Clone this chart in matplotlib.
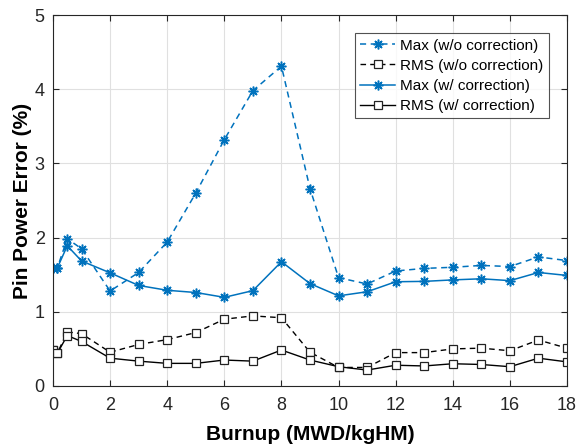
import matplotlib
matplotlib.use("Agg")
import matplotlib.pyplot as plt

plt.rcParams['font.family'] = ['Liberation Sans', 'DejaVu Sans']

burnup = [0, 0.15, 0.5, 1, 2, 3, 4, 5, 6, 7, 8, 9, 10, 11, 12, 13, 14, 15, 16, 17, 18]
max_wo = [1.59, 1.59, 1.985, 1.85, 1.28, 1.53, 1.94, 2.60, 3.32, 3.98, 4.31, 2.66, 1.46, 1.375,
          1.55, 1.585, 1.60, 1.625, 1.61, 1.74, 1.69]
rms_wo = [0.485, 0.44, 0.73, 0.705, 0.455, 0.56, 0.625, 0.72, 0.90, 0.945, 0.92, 0.455, 0.25, 0.25,
          0.45, 0.45, 0.50, 0.51, 0.475, 0.62, 0.51]
max_w = [1.59, 1.59, 1.89, 1.685, 1.525, 1.355, 1.29, 1.26, 1.195, 1.285, 1.675, 1.38, 1.215, 1.27,
         1.405, 1.41, 1.43, 1.445, 1.42, 1.53, 1.49]
rms_w = [0.485, 0.44, 0.68, 0.60, 0.375, 0.335, 0.305, 0.305, 0.35, 0.335, 0.485, 0.35, 0.26, 0.215,
         0.28, 0.27, 0.30, 0.29, 0.26, 0.375, 0.325]

labels = ['Max (w/o correction)', 'RMS (w/o correction)', 'Max (w/ correction)', 'RMS (w/ correction)']
blue = '#0072BD'
ast = (8, 2, 0)

fig = plt.figure(figsize=(5.79, 4.46), dpi=100)
ax = fig.add_axes([53/579, 60/446, 514/579, 371/446])

ax.plot(burnup, max_wo, '--', color=blue, marker=ast, markersize=7, lw=1.1,
        markeredgewidth=1.1, dashes=(4, 3), label=labels[0])
ax.plot(burnup, rms_wo, '--', color='black', marker='s', markersize=6, lw=1.0,
        markerfacecolor='white', markeredgecolor='#222222', markeredgewidth=0.9,
        dashes=(4, 3), label=labels[1])
ax.plot(burnup, max_w, '-', color=blue, marker=ast, markersize=7, lw=1.1,
        markeredgewidth=1.1, label=labels[2])
ax.plot(burnup, rms_w, '-', color='black', marker='s', markersize=6, lw=1.0,
        markerfacecolor='white', markeredgecolor='#222222', markeredgewidth=0.9, label=labels[3])

ax.set_xlim(0, 18)
ax.set_ylim(0, 5)
ax.set_xticks(range(0, 19, 2))
ax.set_yticks(range(0, 6))
ax.grid(True, color='#e0e0e0', lw=0.8)
ax.set_axisbelow(True)
ax.tick_params(direction='in', top=True, right=True, labelsize=13, length=4,
               color='#262626', labelcolor='#262626')
ax.tick_params(axis='x', pad=8)
ax.tick_params(axis='y', pad=6)
for s in ax.spines.values():
    s.set_color('#262626')
    s.set_linewidth(0.8)

ax.set_xlabel('Burnup (MWD/kgHM)', fontsize=15, fontweight='bold', labelpad=8)
ax.set_ylabel('Pin Power Error (%)', fontsize=15, fontweight='bold', labelpad=2)

leg = ax.legend(loc='upper right', fontsize=11, frameon=True, fancybox=False,
                edgecolor='#262626', handlelength=2.3, borderaxespad=1.2,
                labelspacing=0.4, handletextpad=0.3, borderpad=0.35)
leg.get_frame().set_linewidth(0.8)

fig.savefig('out.png', dpi=100)
